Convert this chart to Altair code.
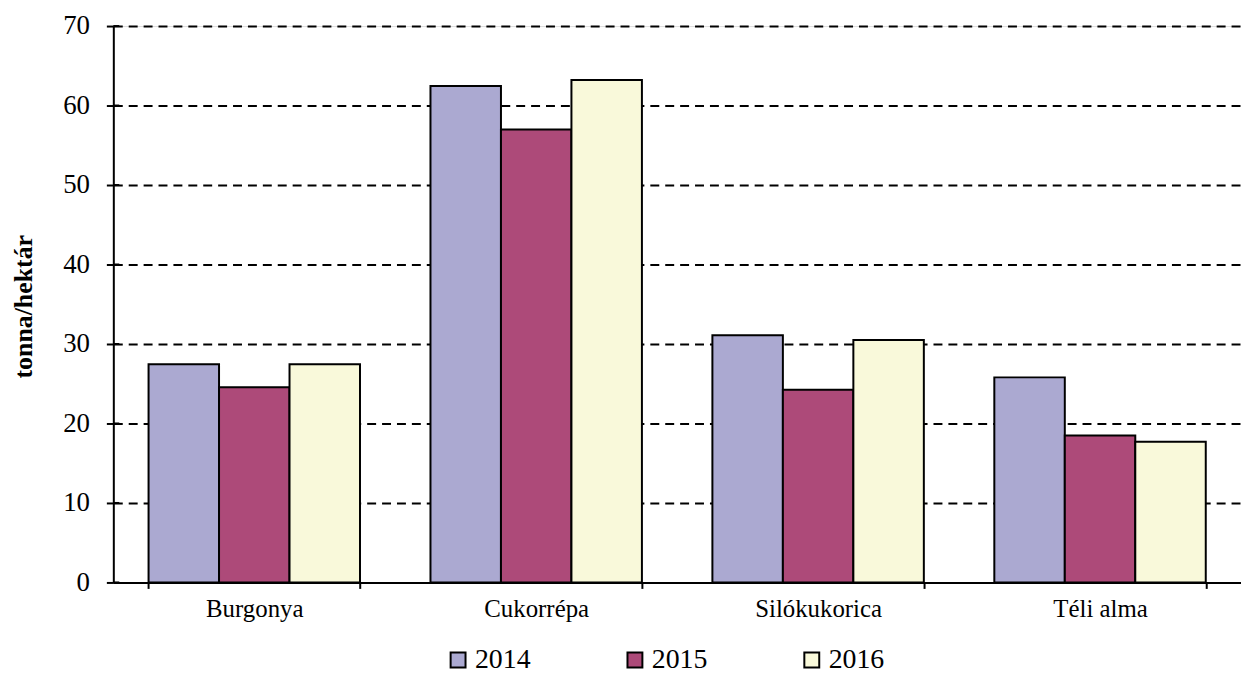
import altair as alt
import pandas as pd

categories = ["Burgonya", "Cukorrépa", "Silókukorica", "Téli alma"]
years = ["2014", "2015", "2016"]
v2014 = [27.45, 62.45, 31.1, 25.8]
v2015 = [24.55, 57.0, 24.25, 18.5]
v2016 = [27.45, 63.2, 30.5, 17.7]
colors = ["#ABA9D1", "#AD4A79", "#F9F9DA"]
y_ticks = [0, 10, 20, 30, 40, 50, 60, 70]

rows = []
for yr, vals in zip(years, [v2014, v2015, v2016]):
    for c, v in zip(categories, vals):
        rows.append({"crop": c, "year": yr, "value": v})
df = pd.DataFrame(rows)
ticks_df = pd.DataFrame({"t": y_ticks})

FONT = "Liberation Serif"
W, H = 1135, 560

yscale = alt.Scale(domain=[0, 70], nice=False)

bars = alt.Chart(df).mark_bar(stroke="black", strokeWidth=2).encode(
    x=alt.X(
        "crop:N",
        sort=categories,
        scale=alt.Scale(paddingInner=0.25, paddingOuter=0.125),
        axis=alt.Axis(
            title=None, labelAngle=0, tickBand="extent", tickSize=6, tickWidth=2,
            tickColor="black", domainColor="black", domainWidth=2,
            labelFont=FONT, labelFontSize=25, labelColor="black", labelPadding=8,
            grid=False,
        ),
    ),
    xOffset=alt.XOffset("year:N", sort=years),
    y=alt.Y(
        "value:Q",
        scale=yscale,
        axis=alt.Axis(
            values=y_ticks, title="tonna/hektár", tickSize=7, tickWidth=2,
            tickColor="black", domainColor="black", domainWidth=2,
            labelFont=FONT, labelFontSize=27, labelColor="black", labelPadding=17,
            grid=True, gridColor="black", gridDash=[9, 6], gridWidth=2,
            titleFont=FONT, titleFontSize=26, titleFontWeight="bold", titleColor="black",
            titleX=-90, titleY=282, titleBaseline="middle", titleAngle=270,
        ),
    ),
    color=alt.Color(
        "year:N",
        scale=alt.Scale(domain=years, range=colors),
        legend=alt.Legend(
            title=None, orient="none", legendX=333, legendY=624, direction="horizontal",
            symbolType="square", symbolSize=225, symbolStrokeColor="black",
            symbolStrokeWidth=2, symbolOpacity=1, labelFont=FONT, labelFontSize=28,
            labelColor="black", labelOffset=3, columnPadding=91, padding=0,
        ),
    ),
)

tick_right = alt.Chart(ticks_df).mark_rule(color="black", strokeWidth=2).encode(
    y=alt.Y("t:Q", scale=yscale),
    x=alt.value(0),
    x2=alt.value(6),
)

chart = alt.layer(bars, tick_right).properties(
    width=W,
    height=H,
    autosize=alt.AutoSizeParams(type="none"),
    padding={"left": 106, "top": 16, "right": 0, "bottom": 93},
).configure_view(stroke=None).configure(background="white")

chart.save("out.html", embed_options={"renderer": "svg", "actions": False})
